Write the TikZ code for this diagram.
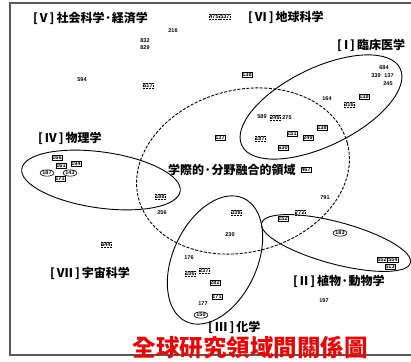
\documentclass[tikz,border=0pt]{standalone}
\usepackage{fontspec}
\usetikzlibrary{shapes.geometric}
\newfontfamily\jpf{Noto Sans CJK JP}
\newfontfamily\tcf{Noto Sans CJK TC}
\newfontfamily\numf{Liberation Sans}
\definecolor{titlered}{RGB}{225,10,10}
\definecolor{framegray}{RGB}{90,90,90}
\tikzset{
  num/.style={font=\numf\bfseries\fontsize{5.5}{5.5}\selectfont, inner sep=0.6pt},
  sbox/.style={num, draw, line width=0.6pt},
  dbox/.style={num, draw, densely dotted, line width=0.5pt},
  oval/.style={num, draw, ellipse, inner sep=0.3pt, line width=0.6pt},
  area/.style={font=\jpf\bfseries\fontsize{12}{12}\selectfont, inner sep=0pt, anchor=west},
  region/.style={draw, ellipse, inner sep=0pt, line width=0.9pt},
}
\begin{document}
\begin{tikzpicture}[x=1pt,y=-1pt]
\useasboundingbox (0,0) rectangle (411,361);
\fill[white] (0,0) rectangle (411,361);
% frame
\draw[framegray, line width=1.3pt] (420,3) -- (10,3) -- (10,355) -- (420,355);

% regions
\node[region, minimum width=176pt, minimum height=78pt, rotate=26] (clin) at (321,107) {};
\node[region, dashed, dash pattern=on 3pt off 1.5pt, minimum width=216pt, minimum height=162pt, rotate=15] (inter) at (243,171) {};
\node[region, minimum width=160pt, minimum height=56pt, rotate=-8] (phys) at (101,180) {};
\node[region, minimum width=136pt, minimum height=84pt, rotate=65] (chem) at (215,260) {};
\node[region, minimum width=154pt, minimum height=42pt, rotate=-15] (plant) at (336,243) {};

% area labels
\node[area] (lV) at (33,18) {[\,V\,]\,社会科学·経済学};
\node[area] (lVI) at (248,17) {[\,VI\,]\,地球科学};
\node[area] (lI) at (337,45) {[\,I\,]\,臨床医学};
\node[area] (lIV) at (38,138) {[\,IV\,]\,物理学};
\node[area] (lVII) at (50,273) {[\,VII\,]\,宇宙科学};
\node[area] (lII) at (293,281) {[\,II\,]\,植物·動物学};
\node[area] (lIII) at (208,327) {[\,III\,]\,化学};
\node[area] (lmid) at (168,170) {学際的·分野融合的領域};

% numbers: upper left
\node[num] (n594) at (82,80) {594};
\node[num] (n216) at (173,31) {216};
\node[num] (n832) at (145,41) {832};
\node[num] (n829) at (145,48) {829};
\node[dbox] (n517) at (148,86) {517};
\node[dbox] (n475) at (214,17) {475};
\node[dbox, anchor=west] (n537) at (n475.east) {537};
\node[sbox] (n138a) at (247,75) {138};

% clinical
\node[num] (n684) at (384,68) {684};
\node[num] (n339) at (376,76) {339};
\node[num] (n137a) at (389,76) {137};
\node[num] (n245) at (388,84) {245};
\node[num] (n164) at (327,99) {164};
\node[dbox] (n316) at (349,105) {316};
\node[sbox] (n138b) at (364,97) {138};
\node[num] (n589) at (262,117) {589};
\node[dbox] (n249a) at (275,118) {249};
\node[num] (n275) at (287,118) {275};
\node[sbox] (n151) at (292,134) {151};
\node[sbox] (n249b) at (308,138) {249};
\node[sbox] (n138c) at (322,128) {138};
\node[sbox] (n630) at (283,148) {630};
\node[sbox] (n137b) at (220,138) {137};
\node[dbox] (n187) at (260,139) {187};
\node[sbox] (n467) at (306,170) {467};

% physics cluster
\node[sbox] (n166) at (57,158) {166};
\node[sbox] (n161) at (61,166) {161};
\node[sbox] (n194) at (76,164) {194};
\node[oval] (n187o) at (47,173) {187};
\node[oval] (n143) at (70,173) {143};
\node[sbox] (n171a) at (60,179) {171};

% middle
\node[dbox] (n188) at (160,197) {188};
\node[num] (n256) at (162,213) {256};
\node[dbox] (n338) at (236,213) {338};
\node[num] (n791) at (325,198) {791};
\node[dbox] (n772) at (300,213) {772};
\node[sbox] (n152) at (283,219) {152};
\node[oval] (n183) at (340,233) {183};
\node[sbox] (n552) at (382,260) {552};
\node[sbox, anchor=west] (n554) at (n552.east) {554};
\node[sbox] (n513) at (390,267) {513};
\node[num] (n197) at (324,301) {197};
\node[dbox] (n644) at (106,245) {644};

% chemistry
\node[num] (n230) at (230,235) {230};
\node[num] (n176) at (189,258) {176};
\node[dbox] (n106) at (190,274) {106};
\node[dbox] (n237) at (204,271) {237};
\node[sbox] (n282) at (215,283) {282};
\node[sbox] (n171b) at (217,297) {171};
\node[num] (n177) at (203,304) {177};
\node[oval] (n150) at (201,315) {150};

% title
\node[font=\tcf\bfseries\fontsize{23.5}{23.5}\selectfont, text=titlered, inner sep=0pt] (title) at (250,348) {全球研究領域間關係圖};
\end{tikzpicture}
\end{document}
